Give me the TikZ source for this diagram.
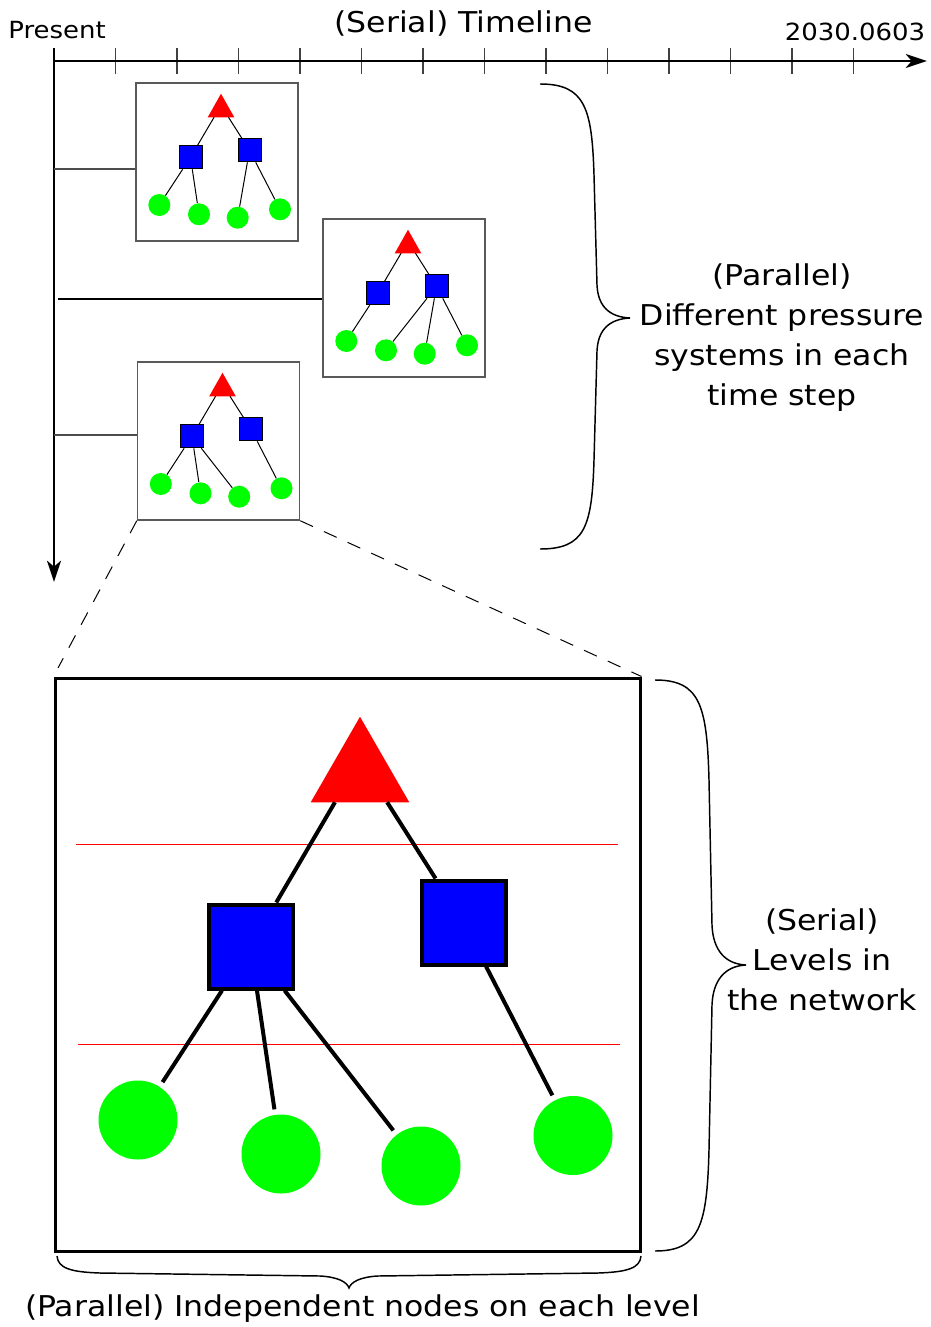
\documentclass[tikz,border=0pt]{standalone}
\usepackage{fontspec}
\setmainfont{DejaVu Sans}[FakeStretch=1.1]
\usetikzlibrary{arrows.meta}
\newcommand\smalltxt{\fontsize{17.7pt}{21pt}\selectfont}
\newcommand\bigtxt{\fontsize{21.5pt}{30pt}\selectfont}
\tikzset{
  trinode/.style={rectangle, inner sep=0pt, draw=none},
  smalltri/.style={trinode, minimum width=19.5pt, minimum height=17.25pt},
  bigtri/.style={trinode, minimum width=73.5pt, minimum height=63.75pt},
  smallsq/.style={draw=black, fill=blue, line width=0.75pt, minimum size=17.25pt, inner sep=0pt},
  bigsq/.style={draw=black, fill=blue, line width=3pt, minimum size=63pt, inner sep=0pt},
  smallcirc/.style={circle, fill=green, minimum size=16.5pt, inner sep=0pt},
  bigcirc/.style={circle, fill=green, minimum size=59.25pt, inner sep=0pt},
  smalledge/.style={line width=0.75pt},
  bigedge/.style={line width=3pt, shorten >=4pt},
  frame/.style={draw=black!65, line width=1.1pt, minimum width=121.5pt, minimum height=118.5pt, inner sep=0pt},
  bigframe/.style={draw=black, line width=2.25pt, minimum width=438.75pt, minimum height=429.75pt, inner sep=0pt},
  axis/.style={line width=1.5pt, -{Stealth[length=16pt,width=10.5pt,inset=4.5pt]}},
  tickline/.style={draw=black!75, line width=1.1pt},
  thinconn/.style={draw=black!70, line width=0.8pt},
  thickconn/.style={draw=black, line width=1.5pt},
  zoomline/.style={draw=black, line width=0.75pt, dash pattern=on 10.5pt off 9pt},
  bracestyle/.style={draw=black, line width=1.1pt},
  levelline/.style={draw=red, line width=0.75pt},
}
\newcommand\mytree[1]{%
  \node[frame] (#1box) at (81,79) {};
  \node[smalltri] (#1t) at (85,22.5) {};
  \node[smallsq] (#1s1) at (54.5,74.3) {};
  \node[smallsq] (#1s2) at (113.5,67.3) {};
  \node[smallcirc] (#1c1) at (23.3,122) {};
  \node[smallcirc] (#1c2) at (63,131.3) {};
  \node[smallcirc] (#1c3) at (101.7,134.7) {};
  \node[smallcirc] (#1c4) at (144,126.3) {};
  \fill[red] (#1t.south west) -- (#1t.south east) -- (#1t.north) -- cycle;
}
\begin{document}
\begin{tikzpicture}[x=0.75pt,y=-0.75pt]
\useasboundingbox (0,0) rectangle (931,1327);

% timeline
\coordinate (o) at (54,61);
\coordinate (tend) at (927,61);
\foreach \i in {0,...,13} \draw[tickline] ({54+61.5*\i},48) -- ({54+61.5*\i},74);
\draw[axis] (o) -- (tend);
\coordinate (vtop) at (54,48);
\coordinate (vend) at (54,582);
\draw[axis] (vtop) -- (vend);

\node[anchor=base, font=\smalltxt] (present) at (57,39) {Present};
\node[anchor=base, font=\smalltxt] (date) at (855,40.7) {2030.0603};
\node[anchor=base, font=\bigtxt] (title) at (463.5,33) {(Serial) Timeline};

% small trees
\begin{scope}[shift={(136,83)}]\mytree{a}\end{scope}
\begin{scope}[shift={(323,219)}]\mytree{b}\end{scope}
\begin{scope}[shift={(137.5,362)}]\mytree{c}\end{scope}

\draw[smalledge] (at) -- (as1); \draw[smalledge] (at) -- (as2);
\draw[smalledge] (as1) -- (ac1); \draw[smalledge] (as1) -- (ac2);
\draw[smalledge] (as2) -- (ac3); \draw[smalledge] (as2) -- (ac4);

\draw[smalledge] (bt) -- (bs1); \draw[smalledge] (bt) -- (bs2);
\draw[smalledge] (bs1) -- (bc1); \draw[smalledge] (bs2) -- (bc2);
\draw[smalledge] (bs2) -- (bc3); \draw[smalledge] (bs2) -- (bc4);

\draw[smalledge] (ct) -- (cs1); \draw[smalledge] (ct) -- (cs2);
\draw[smalledge] (cs1) -- (cc1); \draw[smalledge] (cs1) -- (cc2);
\draw[smalledge] (cs1) -- (cc3); \draw[smalledge] (cs2) -- (cc4);

% connectors from the time axis
\coordinate (h1) at (54,169);
\coordinate (h2) at (58,299);
\coordinate (h3) at (54,435);
\draw[thinconn] (h1) -- (h1 -| abox.west);
\draw[thickconn] (h2) -- (h2 -| bbox.west);
\draw[thinconn] (h3) -- (h3 -| cbox.west);

% brace 1
\draw[bracestyle] (540,84) .. controls (585,84) and (592,108) .. (594,175) -- (597,285)
  .. controls (598,307) and (610,317) .. (630,318)
  .. controls (610,319) and (598,329) .. (597,351) -- (594,460)
  .. controls (592,527) and (585,549) .. (540,549);
\node[align=center, font=\bigtxt] (ptext) at (782,338) {(Parallel)\\Different pressure\\systems in each\\time step};

% big view
\node[bigframe] (big) at (347.5,964.5) {};
\coordinate (dl) at (58,668);
\draw[zoomline] (cbox.south west) -- (dl);
\draw[zoomline] (cbox.south east) -- (big.north east);

\draw[levelline] (76,844) -- (618,844);
\draw[levelline] (78,1044) -- (620,1044);

\node[bigtri] (gt) at (360,759.5) {};
\fill[red] (gt.south west) -- (gt.south east) -- (gt.north) -- cycle;
\node[bigsq] (gs1) at (250.5,946.5) {};
\node[bigsq] (gs2) at (463.5,922.5) {};
\node[bigcirc] (gc1) at (138,1120) {};
\node[bigcirc] (gc2) at (281,1154) {};
\node[bigcirc] (gc3) at (421,1166) {};
\node[bigcirc] (gc4) at (573,1135.5) {};
\draw[line width=3pt] (gt) -- (gs1);
\draw[line width=3pt] (gt) -- (gs2);
\draw[bigedge] (gs1) -- (gc1);
\draw[bigedge] (gs1) -- (gc2);
\draw[bigedge] (gs1) -- (gc3);
\draw[bigedge] (gs2) -- (gc4);

% brace 2
\draw[bracestyle] (655,680) .. controls (700,680) and (707,705) .. (709,780) -- (712,925)
  .. controls (713,950) and (725,964) .. (746,965)
  .. controls (725,966) and (713,980) .. (712,1005) -- (709,1150)
  .. controls (707,1225) and (700,1251) .. (655,1251);
\node[align=center, font=\bigtxt] (stext) at (822,960) {(Serial)\\Levels in\\the network};

% bottom brace
\draw[bracestyle] (57,1256) .. controls (58,1268) and (70,1272) .. (100,1273) -- (320,1276)
  .. controls (338,1277) and (347,1282) .. (349,1288)
  .. controls (351,1282) and (360,1277) .. (378,1276) -- (598,1273)
  .. controls (628,1272) and (640,1268) .. (641,1256);
\node[anchor=base, font=\bigtxt] (btext) at (362.5,1316) {(Parallel) Independent nodes on each level};
\end{tikzpicture}
\end{document}
